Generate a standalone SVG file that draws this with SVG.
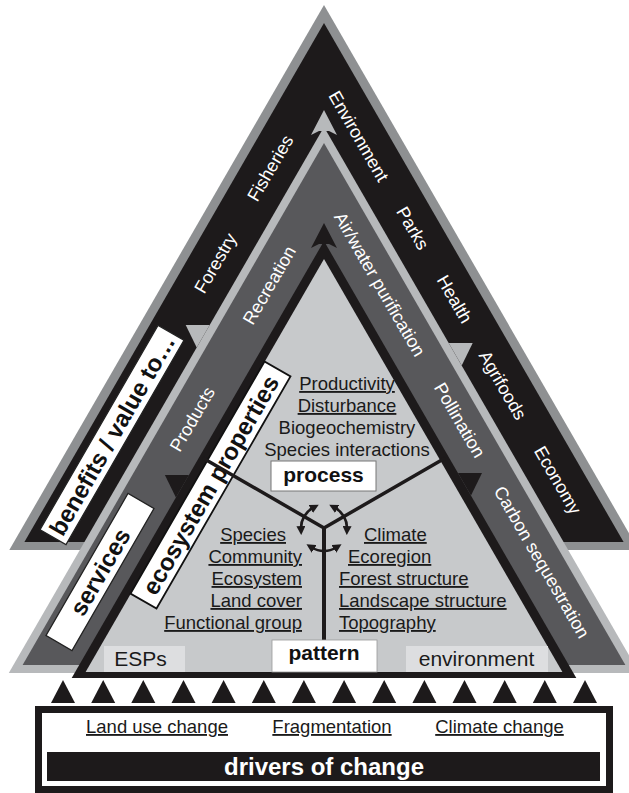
<svg xmlns="http://www.w3.org/2000/svg" width="629" height="793" viewBox="0 0 629 793">
<defs>
<style>
.wt{font-family:"Liberation Sans",Arial,sans-serif;font-size:18px;fill:#fff;text-anchor:middle}
.bt{font-family:"Liberation Sans",Arial,sans-serif;font-size:18.5px;fill:#1a1a1a}
.u{text-decoration:underline}
.mid{text-anchor:middle}
.end{text-anchor:end}
.lbl{font-family:"Liberation Sans",Arial,sans-serif;font-weight:bold;font-size:24px;fill:#111;text-anchor:middle}
.hd{font-family:"Liberation Sans",Arial,sans-serif;font-weight:bold;font-size:21px;fill:#111;text-anchor:middle}
.box{fill:#fff;stroke:#222;stroke-width:1.3}
.blk{fill:#1d1a1b}
.ln{fill:none;stroke:#1d1a1b;stroke-width:3.5;stroke-linecap:butt}
.arc{fill:none;stroke:#1d1a1b;stroke-width:2.6}
</style>
<marker id="ah" viewBox="0 0 10 10" refX="3" refY="5" markerWidth="9" markerHeight="9" markerUnits="userSpaceOnUse" orient="auto-start-reverse">
<path d="M0,0 L10,5 L0,10 Z" fill="#1d1a1b"/>
</marker>
<path id="tri" d="M0,-11 L12,12 L-12,12 Z" fill="#1d1a1b"/>
</defs>
<rect width="629" height="793" fill="#fff"/>

<g id="benefits">
<polygon points="324,5 638.7,550 9.3,550" fill="#8e9092"/>
<polygon points="324,23 623.6,542 24.4,542" class="blk"/>
</g>

<g id="services">
<polygon points="324,127 639.2,673 8.8,673" fill="#b7b9bb"/>
<polygon points="324,143 625.4,665 22.6,665" fill="#58585b"/>
<polygon points="209.7,325 185.7,325 196.7,347.5" fill="#b7b9bb"/>
<polygon points="448.7,343 472.7,343 461.7,365.5" fill="#b7b9bb"/>
<polygon points="324,110 337,135 329,131 319,131 311,135" fill="#b7b9bb"/>
</g>

<g id="ecosystem-properties">
<polygon points="188.9,475 164.9,475 175.9,497.5" class="blk"/>
<polygon points="458,473 482,473 471,495.5" class="blk"/>
<polygon points="324,241 576.3,678 71.7,678" class="blk"/>
<polygon points="324,259 562.4,672 85.6,672" fill="#c7c9cb"/>
<polygon points="324,223 337,248 329,244 319,244 311,248" class="blk"/>
<rect x="104" y="646" width="81" height="26" fill="#dddee0"/>
<rect x="406" y="646" width="142" height="26" fill="#dddee0"/>
<text class="bt" x="140.5" y="666" style="font-size:21px;text-anchor:middle">ESPs</text>
<text class="bt" x="476.5" y="666" style="font-size:21px;text-anchor:middle">environment</text>
</g>

<g id="benefit-labels">
<text class="wt" transform="translate(359,136) rotate(60)" y="6.5">Environment</text>
<text class="wt" transform="translate(413,228) rotate(60)" y="6.5">Parks</text>
<text class="wt" transform="translate(455,299) rotate(60)" y="6.5">Health</text>
<text class="wt" transform="translate(503,385) rotate(60)" y="6.5">Agrifoods</text>
<text class="wt" transform="translate(558,480) rotate(60)" y="6.5">Economy</text>
<text class="wt" transform="translate(270,168) rotate(-60)" y="6.5">Fisheries</text>
<text class="wt" transform="translate(215,263) rotate(-60)" y="6.5">Forestry</text>
<g transform="translate(112,435) rotate(-60)">
<rect x="-118" y="-15" width="236" height="30" class="box"/>
<text class="lbl" y="8.5">benefits / value to…</text>
</g>
</g>

<g id="service-labels">
<text class="wt" transform="translate(380,284) rotate(60)" y="6.5">Air/water purification</text>
<text class="wt" transform="translate(460,420) rotate(60)" y="6.5">Pollination</text>
<text class="wt" transform="translate(542,562) rotate(60)" y="6.5">Carbon sequestration</text>
<text class="wt" transform="translate(269,285) rotate(-60)" y="6.5">Recreation</text>
<text class="wt" transform="translate(192,419) rotate(-60)" y="6.5">Products</text>
<g transform="translate(100,572) rotate(-60)">
<rect x="-82" y="-15" width="164" height="30" class="box"/>
<text class="lbl" y="8.5">services</text>
</g>
</g>

<g id="ecosystem-label" transform="translate(210.5,485) rotate(-60)">
<rect x="-134" y="-15" width="268" height="30" fill="#fff" stroke="#111" stroke-width="1.8"/>
<text class="lbl" y="8.5">ecosystem properties</text>
</g>

<g id="connectors">
<polyline class="ln" points="202.8,458 324,528 445.2,458"/>
<line class="ln" x1="324" y1="526" x2="324" y2="641" style="stroke-width:4"/>
<path class="arc" d="M301,528.8 A23,23 0 0 1 313.2,507.7" marker-start="url(#ah)" marker-end="url(#ah)"/>
<path class="arc" d="M334.8,507.7 A23,23 0 0 1 347,528.8" marker-start="url(#ah)" marker-end="url(#ah)"/>
<path class="arc" d="M336.2,547.5 A23,23 0 0 1 311.8,547.5" marker-start="url(#ah)" marker-end="url(#ah)"/>
<g id="driver-arrows">
<use href="#tri" x="63" y="691"/>
<use href="#tri" x="103.2" y="691"/>
<use href="#tri" x="143.3" y="691"/>
<use href="#tri" x="183.5" y="691"/>
<use href="#tri" x="223.6" y="691"/>
<use href="#tri" x="263.8" y="691"/>
<use href="#tri" x="303.9" y="691"/>
<use href="#tri" x="344.1" y="691"/>
<use href="#tri" x="384.2" y="691"/>
<use href="#tri" x="424.4" y="691"/>
<use href="#tri" x="464.5" y="691"/>
<use href="#tri" x="504.7" y="691"/>
<use href="#tri" x="544.8" y="691"/>
<use href="#tri" x="585" y="691"/>
</g>
</g>

<g id="process">
<text class="bt u mid" x="347" y="390">Productivity</text>
<text class="bt u mid" x="347" y="412">Disturbance</text>
<text class="bt mid" x="347" y="434">Biogeochemistry</text>
<text class="bt mid" x="347" y="456">Species interactions</text>
<rect x="271" y="461" width="105" height="30" fill="#fff" stroke="#777" stroke-width="1"/>
<text class="hd" x="323.5" y="482">process</text>
</g>

<g id="pattern">
<text class="bt u end" x="286" y="541">Species</text>
<text class="bt u end" x="302" y="563">Community</text>
<text class="bt u end" x="302" y="585">Ecosystem</text>
<text class="bt u end" x="302" y="607">Land cover</text>
<text class="bt u end" x="302" y="629">Functional group</text>
<text class="bt u" x="364" y="541">Climate</text>
<text class="bt u" x="348" y="563">Ecoregion</text>
<text class="bt u" x="339" y="585">Forest structure</text>
<text class="bt u" x="339" y="607">Landscape structure</text>
<text class="bt u" x="339" y="629">Topography</text>
<rect x="272" y="640" width="105" height="32" fill="#fff" stroke="#999" stroke-width="0.8"/>
<text class="hd" x="324" y="660">pattern</text>
</g>

<g id="drivers">
<rect x="38.5" y="709.5" width="571" height="80" fill="#fff" stroke="#1d1a1b" stroke-width="7"/>
<text class="bt u mid" x="157" y="733">Land use change</text>
<text class="bt u mid" x="332" y="733">Fragmentation</text>
<text class="bt u mid" x="499.5" y="733">Climate change</text>
<rect x="47" y="752" width="553" height="29" class="blk"/>
<text x="324" y="775" style="font-family:'Liberation Sans',Arial,sans-serif;font-weight:bold;font-size:24px;fill:#fff;text-anchor:middle">drivers of change</text>
</g>
</svg>
